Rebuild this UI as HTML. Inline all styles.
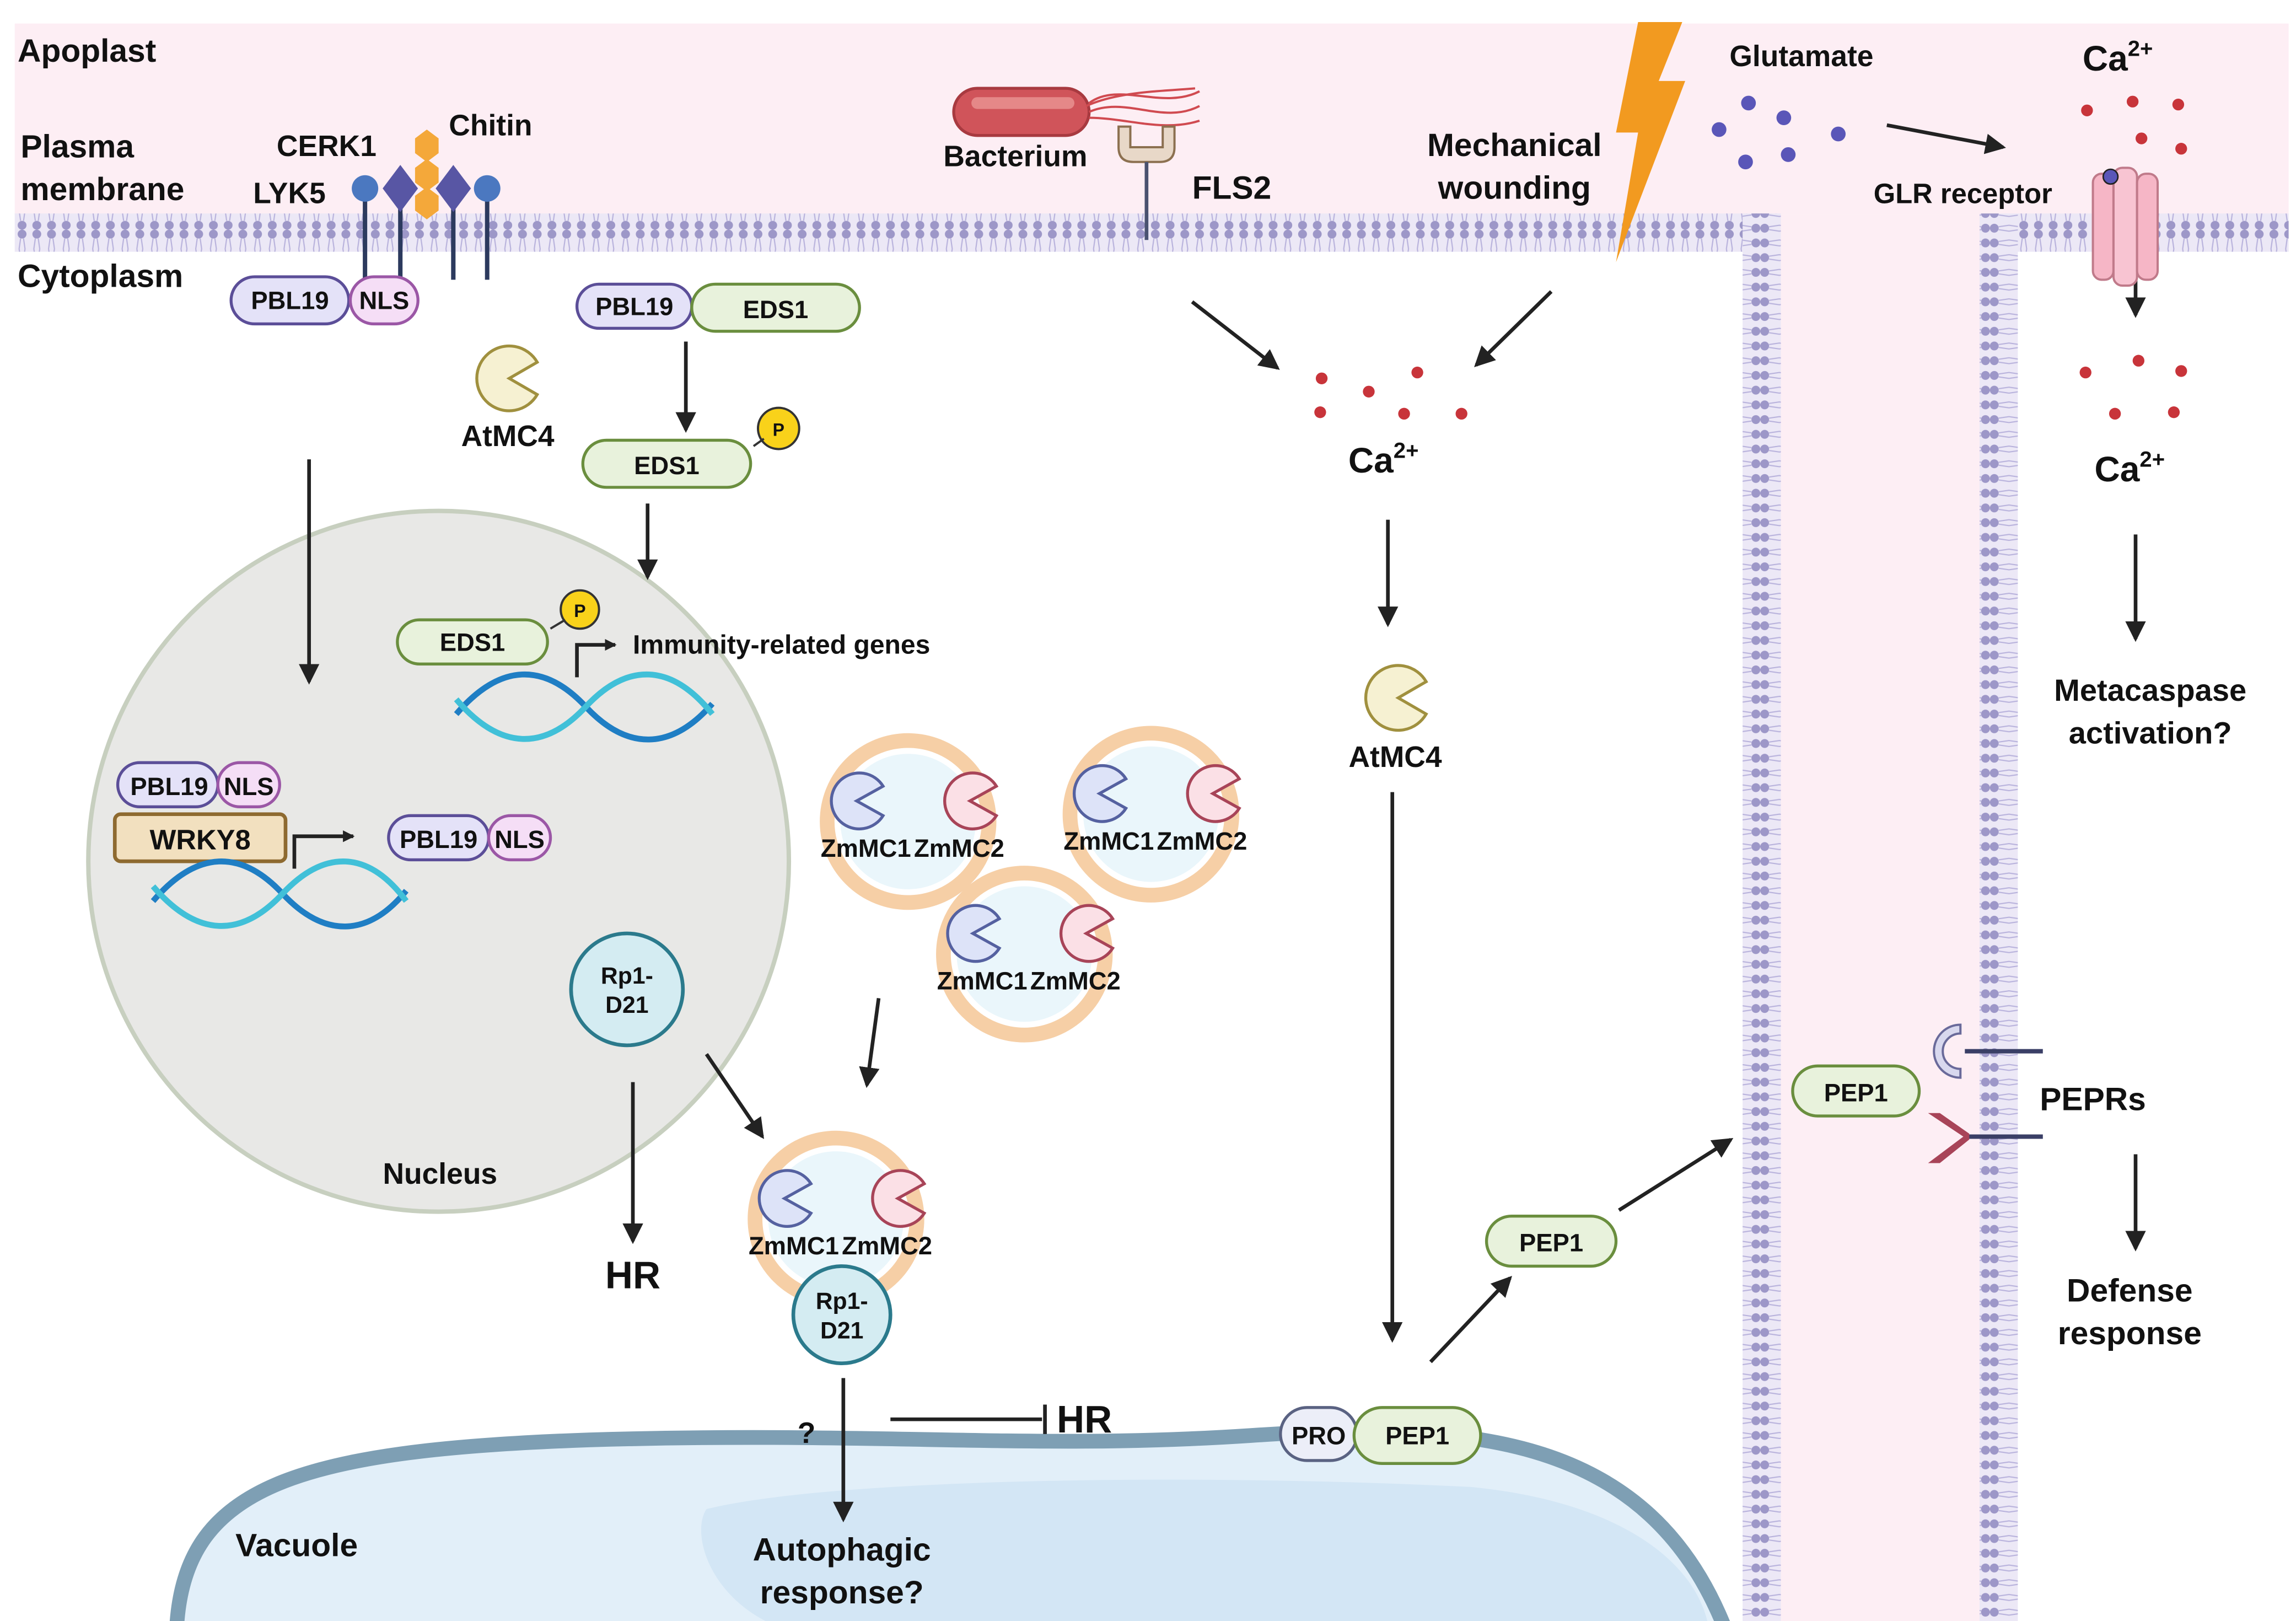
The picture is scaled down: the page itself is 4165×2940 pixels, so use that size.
<!DOCTYPE html>
<html><head><meta charset="utf-8"><style>
html,body{margin:0;padding:0;background:#fff}
svg{display:block}
text{font-family:"Liberation Sans",sans-serif;font-weight:bold;fill:#111}
</style></head><body>
<svg width="4165" height="2940" viewBox="0 0 1560 1101" preserveAspectRatio="none" xmlns="http://www.w3.org/2000/svg">
<defs>
<pattern id="mem" width="10" height="26" patternUnits="userSpaceOnUse">
<rect width="10" height="26" fill="#ece8f6"/>
<circle cx="5" cy="3" r="3" fill="#9d97c8"/><circle cx="5" cy="23" r="3" fill="#9d97c8"/>
<path d="M4 6 L3 13 L4 20 M6 6 L7 13 L6 20" stroke="#b8b2dc" stroke-width="0.8" fill="none"/>
</pattern>
<pattern id="memv" width="26" height="10" patternUnits="userSpaceOnUse">
<rect width="26" height="10" fill="#ece8f6"/>
<circle cx="3" cy="5" r="3" fill="#9d97c8"/><circle cx="23" cy="5" r="3" fill="#9d97c8"/>
<path d="M6 4 L13 3 L20 4 M6 6 L13 7 L20 6" stroke="#b8b2dc" stroke-width="0.8" fill="none"/>
</pattern>
<marker id="ar" markerWidth="8" markerHeight="8" refX="7" refY="4" orient="auto" markerUnits="userSpaceOnUse" viewBox="0 0 8 8"><path d="M0 0 L8 4 L0 8 Z" fill="#222"/></marker>
<marker id="ar2" markerWidth="14" markerHeight="14" refX="12" refY="7" orient="auto" markerUnits="userSpaceOnUse" viewBox="0 0 14 14"><path d="M0 0 L14 7 L0 14 Z" fill="#222"/></marker>
<g id="ves">
<circle cx="0" cy="0" r="55" fill="#fff" stroke="#f6cfa6" stroke-width="10"/>
<circle cx="0" cy="0" r="46" fill="#eaf6fb"/>
<path d="M-17 -24 L-35 -14 L-17 -4 A19 19 0 1 1 -17 -24Z" fill="#dde3f8" stroke="#5561a0" stroke-width="2"/>
<path d="M60 -24 L42 -14 L60 -4 A19 19 0 1 1 60 -24Z" fill="#fbe0e6" stroke="#a84458" stroke-width="2"/>
<text x="2" y="24" font-size="17" text-anchor="end">ZmMC1</text><text x="4" y="24" font-size="17">ZmMC2</text>
</g>
</defs>
<rect x="10" y="16" width="1545" height="130" fill="#fdeef4"/>
<rect x="1210" y="146" width="135" height="955" fill="#fdeef4"/>
<rect x="10" y="145" width="1198" height="26" fill="url(#mem)"/>
<rect x="1370" y="145" width="185" height="26" fill="url(#mem)"/>
<rect x="1184" y="145" width="26" height="956" fill="url(#memv)"/>
<rect x="1345" y="145" width="26" height="956" fill="url(#memv)"/>
<!-- vacuole -->
<path d="M120 1106 C125 1010 200 985 400 978 C600 972 700 985 850 975 C1000 965 1120 975 1172 1106 Z" fill="#e2eff9"/>
<path d="M480 1025 C560 1005 800 1000 1000 1010 C1100 1020 1150 1060 1160 1101 L520 1101 C480 1080 470 1040 480 1025Z" fill="#d3e6f5"/>
<path d="M120 1106 C125 1010 200 985 400 978 C600 972 700 985 850 975 C1000 965 1120 975 1172 1106" fill="none" stroke="#7e9fb4" stroke-width="10"/>
<circle cx="298" cy="585" r="238" fill="#e8e8e6" stroke="#c7cfbf" stroke-width="3"/>
<text x="12" y="42" font-size="22">Apoplast</text>
<text x="14" y="107" font-size="22">Plasma</text>
<text x="14" y="136" font-size="22">membrane</text>
<text x="12" y="195" font-size="22">Cytoplasm</text>
<text x="188" y="106" font-size="20">CERK1</text>
<text x="172" y="138" font-size="20">LYK5</text>
<text x="305" y="92" font-size="20">Chitin</text>
<g stroke="#2c3a5e" stroke-width="3"><line x1="248" y1="128" x2="248" y2="190"/><line x1="272" y1="128" x2="272" y2="190"/><line x1="308" y1="128" x2="308" y2="190"/><line x1="331" y1="128" x2="331" y2="190"/></g>
<circle cx="248" cy="128" r="9" fill="#4b78c0"/><circle cx="331" cy="128" r="9" fill="#4b78c0"/>
<path d="M272 112 L284 128 L272 144 L260 128Z" fill="#5856a4"/><path d="M308 112 L320 128 L308 144 L296 128Z" fill="#5856a4"/>
<g fill="#f4a83a"><path d="M290 88 L298 94 L298 104 L290 110 L282 104 L282 94Z"/><path d="M290 108 L298 114 L298 124 L290 130 L282 124 L282 114Z"/><path d="M290 127 L298 133 L298 143 L290 149 L282 143 L282 133Z"/></g>
<g font-size="17" text-anchor="middle">
<rect x="157" y="188" width="80" height="32" rx="16" fill="#e4e2f8" stroke="#5b4e98" stroke-width="2"/><text x="197" y="210">PBL19</text>
<rect x="238" y="188" width="46" height="32" rx="16" fill="#f5def6" stroke="#9b57a6" stroke-width="2"/><text x="261" y="210">NLS</text>
<rect x="392" y="193" width="78" height="30" rx="15" fill="#e4e2f8" stroke="#5b4e98" stroke-width="2"/><text x="431" y="214">PBL19</text>
<rect x="470" y="193" width="114" height="32" rx="16" fill="#e8f2dc" stroke="#6a8e3e" stroke-width="2"/><text x="527" y="216">EDS1</text>
<rect x="396" y="299" width="114" height="32" rx="16" fill="#e8f2dc" stroke="#6a8e3e" stroke-width="2"/><text x="453" y="322">EDS1</text>
<rect x="270" y="421" width="102" height="30" rx="15" fill="#e8f2dc" stroke="#6a8e3e" stroke-width="2"/><text x="321" y="442">EDS1</text>
<rect x="80" y="518" width="68" height="30" rx="15" fill="#e4e2f8" stroke="#5b4e98" stroke-width="2"/><text x="115" y="540">PBL19</text>
<rect x="148" y="518" width="42" height="30" rx="15" fill="#f5def6" stroke="#9b57a6" stroke-width="2"/><text x="169" y="540">NLS</text>
<rect x="264" y="554" width="68" height="30" rx="15" fill="#e4e2f8" stroke="#5b4e98" stroke-width="2"/><text x="298" y="576">PBL19</text>
<rect x="332" y="554" width="42" height="30" rx="15" fill="#f5def6" stroke="#9b57a6" stroke-width="2"/><text x="353" y="576">NLS</text>
<rect x="78" y="553" width="116" height="32" rx="4" fill="#f2e0bf" stroke="#8e6a30" stroke-width="2.5"/><text x="136" y="577" font-size="19">WRKY8</text>
<rect x="1010" y="826" width="88" height="34" rx="17" fill="#e8f2dc" stroke="#6a8e3e" stroke-width="2"/><text x="1054" y="850">PEP1</text>
<rect x="1218" y="724" width="86" height="34" rx="17" fill="#e8f2dc" stroke="#6a8e3e" stroke-width="2"/><text x="1261" y="748">PEP1</text>
<rect x="870" y="956" width="52" height="36" rx="18" fill="#eceef8" stroke="#5a6282" stroke-width="2"/><text x="896" y="981">PRO</text>
<rect x="920" y="956" width="86" height="38" rx="19" fill="#e8f2dc" stroke="#6a8e3e" stroke-width="2"/><text x="963" y="981">PEP1</text>
</g>
<circle cx="529" cy="291" r="14" fill="#f9d21a" stroke="#333" stroke-width="1.5"/><text x="529" y="296" font-size="12" text-anchor="middle">P</text>
<line x1="512" y1="303" x2="519" y2="298" stroke="#333" stroke-width="1.5"/>
<circle cx="394" cy="414" r="13" fill="#f9d21a" stroke="#333" stroke-width="1.5"/><text x="394" y="419" font-size="12" text-anchor="middle">P</text>
<line x1="374" y1="427" x2="384" y2="421" stroke="#333" stroke-width="1.5"/>
<g fill="#f6f1d2" stroke="#a0903e" stroke-width="2">
<path d="M365 246 L346 257 L365 268 A22 22 0 1 1 365 246Z"/>
<path d="M969 463 L950 474 L969 485 A22 22 0 1 1 969 463Z"/>
</g>
<text x="345" y="303" font-size="20" text-anchor="middle">AtMC4</text>
<text x="948" y="521" font-size="20" text-anchor="middle">AtMC4</text>
<g fill="none" stroke-width="4">
<path d="M310 485 C340 450 370 450 398 480 C426 510 456 510 484 478" stroke="#1f7ec4"/>
<path d="M310 475 C340 510 370 510 398 480 C426 450 456 450 484 485" stroke="#41c0d8"/>
<path d="M104 612 C134 577 164 577 192 607 C220 637 250 637 276 605" stroke="#1f7ec4"/>
<path d="M104 602 C134 637 164 637 192 607 C220 577 250 577 276 612" stroke="#41c0d8"/>
</g>
<g stroke="#222" stroke-width="2.5" fill="none">
<path d="M392 460 L392 438 L418 438" marker-end="url(#ar)"/>
<path d="M200 590 L200 568 L240 568" marker-end="url(#ar)"/>
</g>
<text x="430" y="444" font-size="18">Immunity-related genes</text>
<circle cx="426" cy="672" r="38" fill="#d4ecf2" stroke="#2b7a8c" stroke-width="2.5"/>
<text x="426" y="668" font-size="16" text-anchor="middle">Rp1-</text><text x="426" y="688" font-size="16" text-anchor="middle">D21</text>
<text x="299" y="804" font-size="20" text-anchor="middle">Nucleus</text>
<use href="#ves" x="617" y="558"/>
<use href="#ves" x="782" y="553"/>
<use href="#ves" x="696" y="648"/>
<use href="#ves" x="568" y="828"/>
<circle cx="572" cy="893" r="33" fill="#d4ecf2" stroke="#2b7a8c" stroke-width="2.5"/>
<text x="572" y="889" font-size="16" text-anchor="middle">Rp1-</text><text x="572" y="909" font-size="16" text-anchor="middle">D21</text>
<g stroke="#222" stroke-width="2.5" fill="none">
<line x1="210" y1="312" x2="210" y2="463" marker-end="url(#ar2)"/>
<line x1="466" y1="232" x2="466" y2="292" marker-end="url(#ar2)"/>
<line x1="440" y1="342" x2="440" y2="392" marker-end="url(#ar2)"/>
<line x1="430" y1="735" x2="430" y2="843" marker-end="url(#ar2)"/>
<line x1="480" y1="716" x2="518" y2="772" marker-end="url(#ar2)"/>
<line x1="597" y1="678" x2="589" y2="737" marker-end="url(#ar2)"/>
<line x1="573" y1="936" x2="573" y2="1032" marker-end="url(#ar2)"/>
<line x1="605" y1="964" x2="708" y2="964"/><line x1="710" y1="954" x2="710" y2="974"/>
<line x1="810" y1="205" x2="868" y2="250" marker-end="url(#ar2)"/>
<line x1="1054" y1="198" x2="1003" y2="248" marker-end="url(#ar2)"/>
<line x1="943" y1="353" x2="943" y2="424" marker-end="url(#ar2)"/>
<line x1="946" y1="538" x2="946" y2="910" marker-end="url(#ar2)"/>
<line x1="972" y1="925" x2="1026" y2="868" marker-end="url(#ar2)"/>
<line x1="1100" y1="822" x2="1176" y2="774" marker-end="url(#ar2)"/>
<line x1="1282" y1="85" x2="1361" y2="100" marker-end="url(#ar2)"/>
<line x1="1451" y1="160" x2="1451" y2="214" marker-end="url(#ar2)"/>
<line x1="1451" y1="363" x2="1451" y2="434" marker-end="url(#ar2)"/>
<line x1="1451" y1="784" x2="1451" y2="848" marker-end="url(#ar2)"/>
</g>
<text x="430" y="875" font-size="26" text-anchor="middle">HR</text>
<text x="718" y="973" font-size="26">HR</text>
<text x="548" y="980" font-size="20" text-anchor="middle">?</text>
<text x="160" y="1057" font-size="22">Vacuole</text>
<text x="572" y="1060" font-size="22" text-anchor="middle">Autophagic</text>
<text x="572" y="1089" font-size="22" text-anchor="middle">response?</text>
<rect x="648" y="60" width="92" height="32" rx="16" fill="#d0545a" stroke="#a83a40" stroke-width="2"/>
<rect x="660" y="66" width="70" height="8" rx="4" fill="#e58888"/>
<g stroke="#d04a50" stroke-width="1.5" fill="none"><path d="M740 70 C760 55 790 75 815 62"/><path d="M740 76 C765 65 790 85 815 72"/><path d="M740 80 C765 80 790 90 815 82"/><path d="M738 72 C760 62 790 62 812 60"/></g>
<text x="641" y="113" font-size="20">Bacterium</text>
<path d="M760 86 L760 100 Q760 110 770 110 L788 110 Q798 110 798 100 L798 86 L790 86 L790 100 L768 100 L768 86Z" fill="#e8d8c8" stroke="#8c7050" stroke-width="1.5"/>
<line x1="779" y1="110" x2="779" y2="163" stroke="#4a5270" stroke-width="2.5"/>
<text x="810" y="135" font-size="22">FLS2</text>
<text x="1029" y="106" font-size="22" text-anchor="middle">Mechanical</text>
<text x="1029" y="135" font-size="22" text-anchor="middle">wounding</text>
<path d="M1113 15 L1143 15 L1127 55 L1145 55 L1098 178 L1113 90 L1098 90Z" fill="#f29a20"/>
<text x="1224" y="45" font-size="20" text-anchor="middle">Glutamate</text>
<g fill="#5a56b8"><circle cx="1188" cy="70" r="5"/><circle cx="1212" cy="80" r="5"/><circle cx="1168" cy="88" r="5"/><circle cx="1249" cy="91" r="5"/><circle cx="1215" cy="105" r="5"/><circle cx="1186" cy="110" r="5"/></g>
<text x="1415" y="48" font-size="24">Ca<tspan font-size="15" dy="-10">2+</tspan></text>
<g fill="#c8343a"><circle cx="1418" cy="75" r="4"/><circle cx="1449" cy="69" r="4"/><circle cx="1480" cy="71" r="4"/><circle cx="1455" cy="94" r="4"/><circle cx="1482" cy="101" r="4"/>
<circle cx="898" cy="257" r="4"/><circle cx="930" cy="266" r="4"/><circle cx="963" cy="253" r="4"/><circle cx="897" cy="280" r="4"/><circle cx="954" cy="281" r="4"/><circle cx="993" cy="281" r="4"/>
<circle cx="1417" cy="253" r="4"/><circle cx="1453" cy="245" r="4"/><circle cx="1482" cy="252" r="4"/><circle cx="1437" cy="281" r="4"/><circle cx="1477" cy="280" r="4"/></g>
<text x="1273" y="138" font-size="19">GLR receptor</text>
<rect x="1422" y="118" width="14" height="72" rx="6" fill="#f6b6c6" stroke="#c07a8a" stroke-width="1.5"/>
<rect x="1436" y="114" width="16" height="80" rx="6" fill="#f8c4d2" stroke="#c07a8a" stroke-width="1.5"/>
<rect x="1452" y="118" width="14" height="72" rx="6" fill="#f6b6c6" stroke="#c07a8a" stroke-width="1.5"/>
<circle cx="1434" cy="120" r="5" fill="#5a56b8" stroke="#222" stroke-width="1"/>
<text x="940" y="321" font-size="24" text-anchor="middle">Ca<tspan font-size="15" dy="-10">2+</tspan></text>
<text x="1447" y="327" font-size="24" text-anchor="middle">Ca<tspan font-size="15" dy="-10">2+</tspan></text>
<text x="1461" y="476" font-size="21" text-anchor="middle">Metacaspase</text>
<text x="1461" y="505" font-size="21" text-anchor="middle">activation?</text>
<text x="1422" y="754" font-size="22" text-anchor="middle">PEPRs</text>
<text x="1447" y="884" font-size="22" text-anchor="middle">Defense</text>
<text x="1447" y="913" font-size="22" text-anchor="middle">response</text>
<g stroke="#3a3f66" stroke-width="3"><line x1="1335" y1="714" x2="1388" y2="714"/><line x1="1335" y1="772" x2="1388" y2="772"/></g>
<path d="M1332 696 A18 18 0 0 0 1332 732 L1332 726 A12 12 0 0 1 1332 702Z" fill="#d8d8ee" stroke="#6a6a9a" stroke-width="1.5"/>
<path d="M1310 756 L1334 772 L1310 790 L1318 790 L1338 774 L1338 770 L1318 756Z" fill="#a84458"/>
</svg>
</body></html>
